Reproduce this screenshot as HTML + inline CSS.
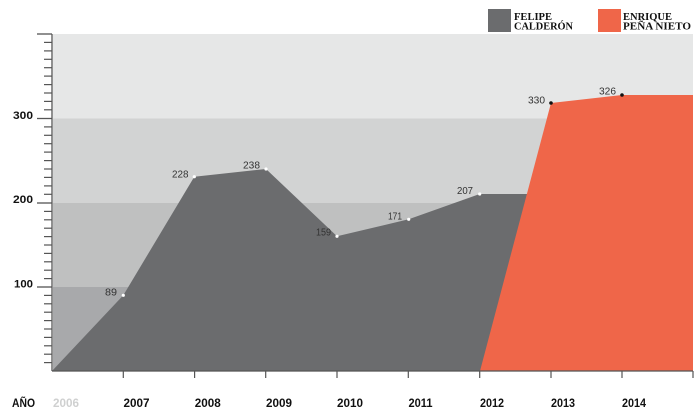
<!DOCTYPE html>
<html>
<head>
<meta charset="utf-8">
<style>
  html,body{margin:0;padding:0;background:#fff;}
  svg{display:block;}
</style>
</head>
<body>
<svg width="700" height="419" viewBox="0 0 700 419" xmlns="http://www.w3.org/2000/svg">
  <rect x="0" y="0" width="700" height="419" fill="#ffffff"/>
  <!-- bands -->
  <rect x="53" y="34" width="640" height="84.5" fill="#e6e7e7"/>
  <rect x="53" y="118.5" width="640" height="84.5" fill="#d2d3d3"/>
  <rect x="53" y="203" width="640" height="84" fill="#bfc0c0"/>
  <rect x="53" y="287" width="640" height="84" fill="#a8a9ab"/>

  <!-- gray area -->
  <polygon points="52,371 123.3,295.3 194.3,176.7 266,169 337,236.3 408.7,219.3 479.7,194 528,194 528,371" fill="#6b6c6e"/>
  <!-- orange area -->
  <polygon points="480,371 551,103 622,95 693,95 693,371" fill="#ef6649"/>

  <!-- axes -->
  <g stroke="#555" stroke-width="1.3" fill="none">
    <line x1="52" y1="34" x2="52" y2="371"/>
    <line x1="52" y1="371" x2="693" y2="371"/>
    <line x1="37" y1="34" x2="52" y2="34"/>
    <line x1="37" y1="118.5" x2="52" y2="118.5"/>
    <line x1="37" y1="203" x2="52" y2="203"/>
    <line x1="37" y1="287" x2="52" y2="287"/>
  </g>
  <g stroke="#555" stroke-width="1.2">
    <line x1="44" y1="42.4" x2="52" y2="42.4"/>
    <line x1="44" y1="50.9" x2="52" y2="50.9"/>
    <line x1="44" y1="59.3" x2="52" y2="59.3"/>
    <line x1="44" y1="67.7" x2="52" y2="67.7"/>
    <line x1="44" y1="76.1" x2="52" y2="76.1"/>
    <line x1="44" y1="84.6" x2="52" y2="84.6"/>
    <line x1="44" y1="93" x2="52" y2="93"/>
    <line x1="44" y1="101.4" x2="52" y2="101.4"/>
    <line x1="44" y1="109.8" x2="52" y2="109.8"/>

    <line x1="44" y1="126.9" x2="52" y2="126.9"/>
    <line x1="44" y1="135.3" x2="52" y2="135.3"/>
    <line x1="44" y1="143.7" x2="52" y2="143.7"/>
    <line x1="44" y1="152.1" x2="52" y2="152.1"/>
    <line x1="44" y1="160.6" x2="52" y2="160.6"/>
    <line x1="44" y1="169" x2="52" y2="169"/>
    <line x1="44" y1="177.4" x2="52" y2="177.4"/>
    <line x1="44" y1="185.9" x2="52" y2="185.9"/>
    <line x1="44" y1="194.3" x2="52" y2="194.3"/>

    <line x1="44" y1="211.4" x2="52" y2="211.4"/>
    <line x1="44" y1="219.8" x2="52" y2="219.8"/>
    <line x1="44" y1="228.2" x2="52" y2="228.2"/>
    <line x1="44" y1="236.6" x2="52" y2="236.6"/>
    <line x1="44" y1="245" x2="52" y2="245"/>
    <line x1="44" y1="253.4" x2="52" y2="253.4"/>
    <line x1="44" y1="261.8" x2="52" y2="261.8"/>
    <line x1="44" y1="270.2" x2="52" y2="270.2"/>
    <line x1="44" y1="278.6" x2="52" y2="278.6"/>

    <line x1="44" y1="295.4" x2="52" y2="295.4"/>
    <line x1="44" y1="303.8" x2="52" y2="303.8"/>
    <line x1="44" y1="312.2" x2="52" y2="312.2"/>
    <line x1="44" y1="320.6" x2="52" y2="320.6"/>
    <line x1="44" y1="329" x2="52" y2="329"/>
    <line x1="44" y1="337.4" x2="52" y2="337.4"/>
    <line x1="44" y1="345.8" x2="52" y2="345.8"/>
    <line x1="44" y1="354.2" x2="52" y2="354.2"/>
    <line x1="44" y1="362.6" x2="52" y2="362.6"/>

    <!-- x ticks -->
    <line x1="123.3" y1="371" x2="123.3" y2="378"/>
    <line x1="194.6" y1="371" x2="194.6" y2="378"/>
    <line x1="265.7" y1="371" x2="265.7" y2="378"/>
    <line x1="337" y1="371" x2="337" y2="378"/>
    <line x1="408.3" y1="371" x2="408.3" y2="378"/>
    <line x1="479.7" y1="371" x2="479.7" y2="378"/>
    <line x1="551" y1="371" x2="551" y2="378"/>
    <line x1="622" y1="371" x2="622" y2="378"/>
    <line x1="693" y1="371" x2="693" y2="378"/>
  </g>

  <!-- y labels -->
  <g font-family="Liberation Sans, sans-serif" font-weight="bold" font-size="11" fill="#111" text-anchor="end">
    <text x="33" y="119" textLength="20" lengthAdjust="spacingAndGlyphs">300</text>
    <text x="33" y="203" textLength="20" lengthAdjust="spacingAndGlyphs">200</text>
    <text x="33" y="287.5" textLength="19" lengthAdjust="spacingAndGlyphs">100</text>
  </g>

  <!-- x labels -->
  <g font-family="Liberation Sans, sans-serif" font-weight="bold" font-size="12" fill="#111">
    <text x="12" y="407" textLength="23" lengthAdjust="spacingAndGlyphs">AÑO</text>
    <text x="53" y="407" textLength="26" lengthAdjust="spacingAndGlyphs" fill="#cfd0d0">2006</text>
    <text x="123.5" y="407" textLength="26" lengthAdjust="spacingAndGlyphs">2007</text>
    <text x="194.8" y="407" textLength="26" lengthAdjust="spacingAndGlyphs">2008</text>
    <text x="266" y="407" textLength="26" lengthAdjust="spacingAndGlyphs">2009</text>
    <text x="337" y="407" textLength="26" lengthAdjust="spacingAndGlyphs">2010</text>
    <text x="408.5" y="407" textLength="24" lengthAdjust="spacingAndGlyphs">2011</text>
    <text x="480" y="407" textLength="24" lengthAdjust="spacingAndGlyphs">2012</text>
    <text x="551" y="407" textLength="24" lengthAdjust="spacingAndGlyphs">2013</text>
    <text x="622" y="407" textLength="24" lengthAdjust="spacingAndGlyphs">2014</text>
  </g>

  <!-- value labels -->
  <g font-family="Liberation Sans, sans-serif" font-size="10" fill="#333" text-anchor="end">
    <text x="117" y="295.5" textLength="12" lengthAdjust="spacingAndGlyphs">89</text>
    <text x="188.5" y="177.5" textLength="16.5" lengthAdjust="spacingAndGlyphs">228</text>
    <text x="260" y="168.5" textLength="17" lengthAdjust="spacingAndGlyphs">238</text>
    <text x="331" y="235.5" textLength="15" lengthAdjust="spacingAndGlyphs">159</text>
    <text x="402" y="219.5" textLength="14" lengthAdjust="spacingAndGlyphs">171</text>
    <text x="473" y="194" textLength="16" lengthAdjust="spacingAndGlyphs">207</text>
    <text x="545" y="103.5" textLength="17" lengthAdjust="spacingAndGlyphs">330</text>
    <text x="616" y="94.5" textLength="17" lengthAdjust="spacingAndGlyphs">326</text>
  </g>

  <!-- points -->
  <g fill="#ffffff">
    <circle cx="123.3" cy="295.3" r="1.6"/>
    <circle cx="194.3" cy="176.7" r="1.6"/>
    <circle cx="266" cy="169" r="1.6"/>
    <circle cx="337" cy="236.3" r="1.6"/>
    <circle cx="408.7" cy="219.3" r="1.6"/>
    <circle cx="479.7" cy="194" r="1.6"/>
  </g>
  <g fill="#111">
    <circle cx="551" cy="103" r="1.8"/>
    <circle cx="622" cy="95" r="1.8"/>
  </g>

  <!-- legend -->
  <rect x="488" y="9" width="23" height="23" fill="#6b6c6e"/>
  <rect x="598" y="9" width="23" height="23" fill="#ef6649"/>
  <g font-family="Liberation Serif, serif" font-weight="bold" font-size="10.5" fill="#111">
    <text x="514" y="20" textLength="38" lengthAdjust="spacingAndGlyphs">FELIPE</text>
    <text x="514" y="29.3" textLength="59" lengthAdjust="spacingAndGlyphs">CALDERÓN</text>
    <text x="623" y="20" textLength="49" lengthAdjust="spacingAndGlyphs">ENRIQUE</text>
    <text x="623" y="29.3" textLength="68" lengthAdjust="spacingAndGlyphs">PEÑA NIETO</text>
  </g>
</svg>
</body>
</html>
